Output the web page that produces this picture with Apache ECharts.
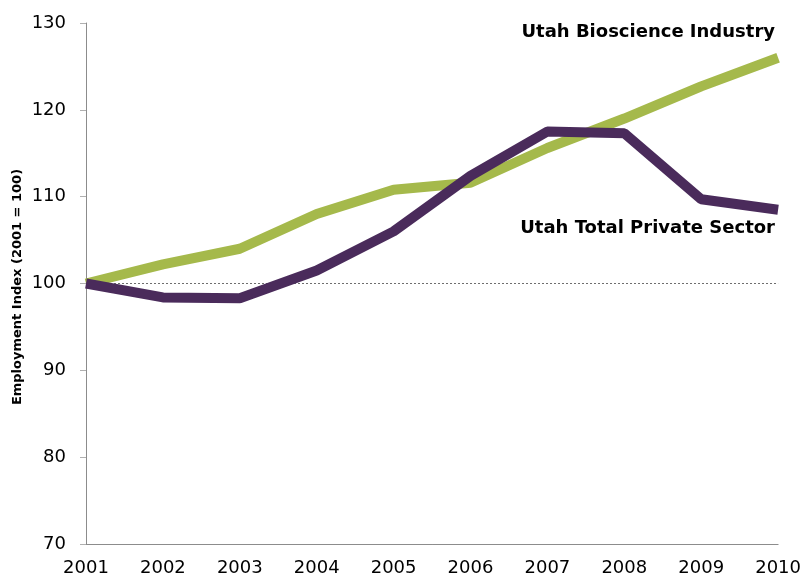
<!DOCTYPE html>
<html>
<head>
<meta charset="utf-8">
<script src="https://cdn.jsdelivr.net/npm/echarts@6/dist/echarts.min.js"></script>
<style>
  html, body { margin: 0; padding: 0; background: #fff; }
  #chart { width: 804px; height: 577px; }
</style>
</head>
<body>
<div id="chart"></div>
<script>
// Employment index, 2001 = 100
const years = ['2001', '2002', '2003', '2004', '2005', '2006', '2007', '2008', '2009', '2010'];
const bioscience = [100, 102.2, 104.0, 108.0, 110.8, 111.6, 115.6, 119.0, 122.7, 126.0];
const totalPrivate = [100, 98.4, 98.3, 101.5, 106.0, 112.4, 117.5, 117.3, 109.7, 108.5];
const baseline = 100;
const seriesNames = ['Utah Bioscience Industry', 'Utah Total Private Sector'];
const yAxisTitle = 'Employment Index (2001 = 100)';

const FONT = '"DejaVu Sans", Verdana, sans-serif';
const GREEN = '#a5b94b';
const PURPLE = '#4a2b5b';
const AXIS = '#8c8c8c';

const chart = echarts.init(document.getElementById('chart'), null, { renderer: 'canvas' });

chart.setOption({
  animation: false,
  backgroundColor: '#ffffff',
  grid: { left: 86, right: 25, top: 23, bottom: 33, containLabel: false },
  xAxis: {
    type: 'category',
    data: years,
    boundaryGap: false,
    axisLine: { show: true, lineStyle: { color: AXIS, width: 1 } },
    axisTick: { show: false },
    axisLabel: { color: '#000', fontFamily: FONT, fontSize: 18, margin: 15 },
    splitLine: { show: false }
  },
  yAxis: {
    type: 'value',
    min: 70,
    max: 130,
    interval: 10,
    axisLine: { show: true, lineStyle: { color: AXIS, width: 1 } },
    axisTick: { show: true, inside: false, length: 6, lineStyle: { color: '#b0b0b0' } },
    axisLabel: { color: '#000', fontFamily: FONT, fontSize: 18, margin: 20 },
    splitLine: { show: false }
  },
  series: [
    {
      name: seriesNames[0],
      type: 'line',
      data: bioscience,
      symbol: 'none',
      lineStyle: { color: GREEN, width: 10 },
      z: 2,
      markLine: {
        silent: true,
        symbol: 'none',
        label: { show: false },
        lineStyle: { color: '#6e6e6e', type: [2, 2], width: 1 },
        data: [{ yAxis: baseline }],
        z: 1
      }
    },
    {
      name: seriesNames[1],
      type: 'line',
      data: totalPrivate,
      symbol: 'none',
      lineStyle: { color: PURPLE, width: 10 },
      z: 3
    }
  ],
  graphic: [
    {
      type: 'text',
      right: 29,
      top: 23,
      style: { text: seriesNames[0], fill: '#000', font: 'bold 18px ' + FONT }
    },
    {
      type: 'text',
      right: 29,
      top: 219,
      style: { text: seriesNames[1], fill: '#000', font: 'bold 18px ' + FONT }
    },
    {
      type: 'text',
      x: 11,
      y: 287,
      rotation: Math.PI / 2,
      style: {
        text: yAxisTitle,
        fill: '#000',
        font: 'bold 13px ' + FONT,
        align: 'center',
        verticalAlign: 'top'
      }
    }
  ]
});
</script>
</body>
</html>
